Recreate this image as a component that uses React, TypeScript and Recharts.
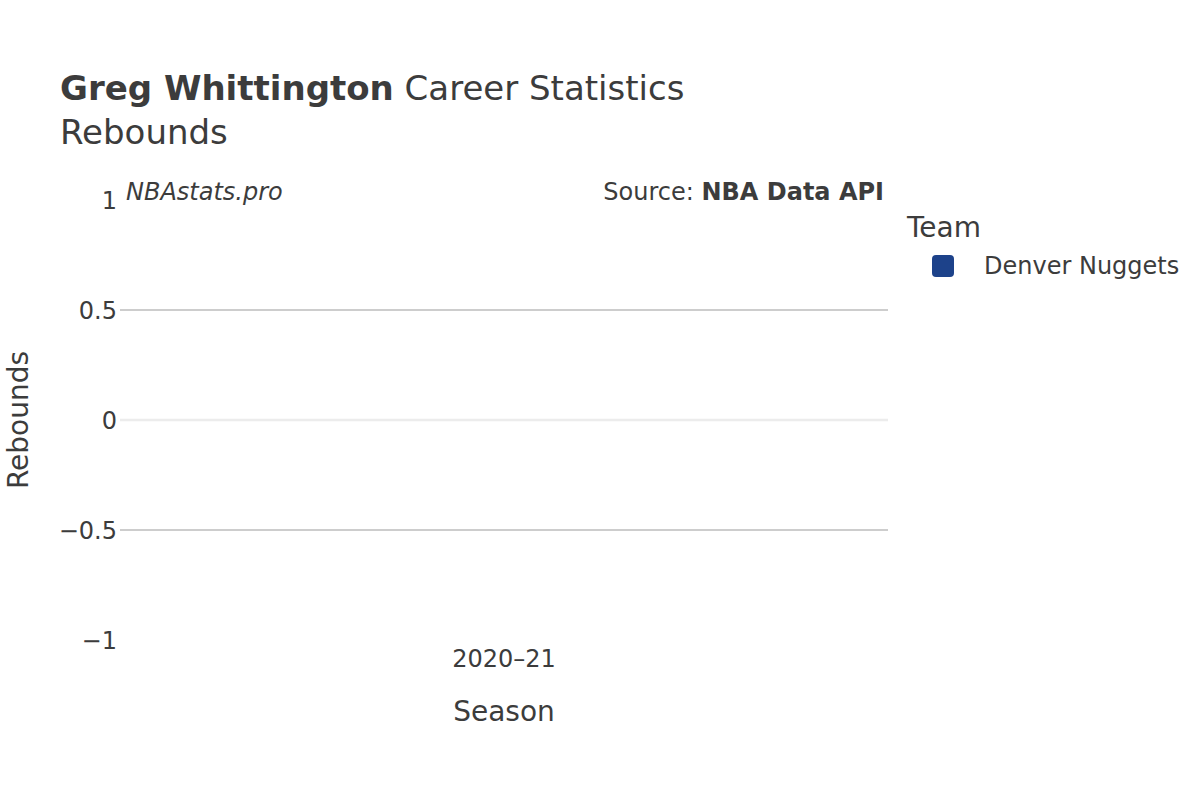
import { Bar, BarChart, CartesianGrid, Legend, ReferenceLine, XAxis, YAxis } from "recharts";

const seasons = ["2020–21"];
const rebounds = [0];
const yTicks = [-1, -0.5, 0, 0.5, 1];
const teamName = "Denver Nuggets";
const teamColor = "#1D428A";

const data = seasons.map((season, i) => ({ season, value: rebounds[i] }));

const FONT = "'DejaVu Sans', sans-serif";
const INK = "#3c3c3c";
const LEGEND_W = 290;

const fmtTick = (v: number) => (v < 0 ? `\u2212${Math.abs(v)}` : `${v}`);

function TeamLegend({ payload }: any) {
  const items = payload ?? [];
  return (
    <div style={{ fontFamily: FONT, color: INK }}>
      <div style={{ fontSize: 28, lineHeight: "32px", marginBottom: 8 }}>Team</div>
      {items.map((item: any) => (
        <div key={item.value} style={{ display: "flex", alignItems: "center", marginLeft: 25 }}>
          <span
            style={{
              display: "inline-block",
              width: 22,
              height: 22,
              borderRadius: 4,
              background: item.color,
              marginRight: 30,
            }}
          />
          <span style={{ fontSize: 24 }}>{item.value}</span>
        </div>
      ))}
    </div>
  );
}

export default function App() {
  return (
    <div style={{ position: "absolute", left: 0, top: 0, width: 1200, height: 800, background: "#fff" }}>
      <BarChart
        width={1200}
        height={800}
        data={data}
        // the legend box width is added to the right offset, so the margin leaves it out
        margin={{ top: 200, right: 312 - LEGEND_W, left: 60, bottom: 0 }}
        style={{ fontFamily: FONT }}
      >
        <CartesianGrid vertical={false} horizontalValues={[-0.5, 0.5]} stroke="#bdbdbd" strokeWidth={1.5} />
        <ReferenceLine y={0} stroke="#ececec" strokeWidth={2.5} />
        <XAxis
          dataKey="season"
          axisLine={false}
          tickLine={false}
          tickSize={0}
          tickMargin={10}
          tick={{ fill: INK, fontSize: 24 }}
          height={160}
        />
        <YAxis
          type="number"
          domain={[-1, 1]}
          ticks={yTicks}
          tickFormatter={fmtTick}
          axisLine={false}
          tickLine={false}
          tickSize={0}
          tickMargin={3}
          width={60}
          tick={{ fill: INK, fontSize: 24 }}
        />
        <Legend
          layout="vertical"
          verticalAlign="top"
          align="right"
          content={<TeamLegend />}
          wrapperStyle={{ position: "absolute", left: 907, top: 212, width: LEGEND_W }}
        />
        <Bar dataKey="value" name={teamName} fill={teamColor} isAnimationActive={false} />
      </BarChart>
      <svg
        width={1200}
        height={800}
        style={{ position: "absolute", left: 0, top: 0, pointerEvents: "none", fontFamily: FONT }}
      >
        <text x={60} y={100} fontSize={34} fill={INK}>
          <tspan fontWeight="bold">Greg Whittington</tspan>
          <tspan> Career Statistics</tspan>
        </text>
        <text x={60} y={144} fontSize={34} fill={INK}>
          Rebounds
        </text>
        <text x={126} y={200} fontSize={24} fontStyle="italic" fill={INK}>
          NBAstats.pro
        </text>
        <text x={884} y={200} fontSize={24} textAnchor="end" fill={INK}>
          <tspan>Source: </tspan>
          <tspan fontWeight="bold">NBA Data API</tspan>
        </text>
        <text x={504} y={721} fontSize={28} textAnchor="middle" fill={INK}>
          Season
        </text>
        <text x={28} y={420} fontSize={28} textAnchor="middle" fill={INK} transform="rotate(-90 28 420)">
          Rebounds
        </text>
      </svg>
    </div>
  );
}
